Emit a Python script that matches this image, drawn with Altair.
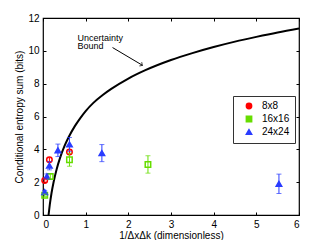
import altair as alt
import pandas as pd

# Uncertainty bound curve
curve_x = [0.13, 0.16, 0.2, 0.25, 0.32, 0.4, 0.5, 0.6, 0.75, 0.87, 1.0, 1.18, 1.4, 1.6, 2.0, 2.4, 3.0, 3.5, 4.0, 4.5, 5.0, 5.5, 6.0]
curve_y = [0.0, 0.64, 1.34, 2.03, 2.79, 3.48, 4.18, 4.74, 5.43, 5.89, 6.33, 6.83, 7.31, 7.68, 8.31, 8.82, 9.44, 9.86, 10.23, 10.56, 10.85, 11.12, 11.36]

# measured series
s8_x = [0.04, 0.15, 0.62]
s8_y = [2.1, 3.37, 3.84]
s8_e = [0.1, 0.12, 0.12]

s16_x = [0.04, 0.17, 0.62, 2.46]
s16_y = [1.2, 2.35, 3.37, 3.08]
s16_e = [0.08, 0.15, 0.4, 0.53]

s24_x = [0.04, 0.09, 0.15, 0.35, 0.62, 1.38, 5.53]
s24_y = [1.4, 2.35, 3.0, 3.94, 4.3, 3.77, 1.9]
s24_e = [0.1, 0.15, 0.25, 0.38, 0.42, 0.52, 0.59]

series_names = ["8x8", "16x16", "24x24"]
series_stroke = ["#ff0000", "#66dd00", "#2a3cff"]
series_fill = ["transparent", "transparent", "#2a3cff"]
series_shape = ["circle", "square", "triangle-up"]

# annotation
note_lines = ["Uncertainty", "Bound"]
note_x = [0.81, 0.81]
note_y = [10.81, 10.27]
arrow_x = [1.63, 2.33]
arrow_y = [10.2, 9.12]

curve = pd.DataFrame({"x": curve_x, "y": curve_y})
rows = []
for name, xs_, ys_, es_ in [("8x8", s8_x, s8_y, s8_e), ("16x16", s16_x, s16_y, s16_e), ("24x24", s24_x, s24_y, s24_e)]:
    for a, b, e in zip(xs_, ys_, es_):
        rows.append({"series": name, "x": a, "y": b, "lo": b - e, "hi": b + e})
pts = pd.DataFrame(rows)
notes = pd.DataFrame({"t": note_lines, "x": note_x, "y": note_y})
arrow = pd.DataFrame({"x": [arrow_x[0]], "y": [arrow_y[0]], "x2": [arrow_x[1]], "y2": [arrow_y[1]]})
head = pd.DataFrame({"x": [arrow_x[1]], "y": [arrow_y[1]]})

FONT = "Liberation Sans"
xs = alt.Scale(domain=[0, 6], nice=False, zero=False)
ys = alt.Scale(domain=[0, 12], nice=False, zero=False)

ax_b = alt.Axis(orient="bottom", values=[0, 1, 2, 3, 4, 5, 6], offset=-3, tickSize=3, domain=False,
                tickColor="black", labelPadding=4, labelFontSize=10, labelFont=FONT, labelColor="black",
                title="1/ΔxΔk (dimensionless)", titleFont=FONT, titleFontSize=10, titleFontWeight="normal",
                titleColor="black", titlePadding=1, grid=False)
ax_l = alt.Axis(orient="left", values=[0, 2, 4, 6, 8, 10, 12], offset=-3, tickSize=3, domain=False,
                tickColor="black", labelPadding=4, labelFontSize=10, labelFont=FONT, labelColor="black",
                title="Conditional entropy sum (bits)", titleFont=FONT, titleFontSize=10,
                titleFontWeight="normal", titleColor="black", titlePadding=3, grid=False)
ax_t = alt.Axis(orient="top", values=[0, 1, 2, 3, 4, 5, 6], offset=-3, tickSize=3, domain=False,
                tickColor="black", labels=False, title=None, grid=False)
ax_r = alt.Axis(orient="right", values=[0, 2, 4, 6, 8, 10, 12], offset=-3, tickSize=3, domain=False,
                tickColor="black", labels=False, title=None, grid=False)

line = alt.Chart(curve).mark_line(color="black", strokeWidth=2, clip=True, interpolate="monotone").encode(
    x=alt.X("x:Q", scale=xs, axis=ax_b),
    y=alt.Y("y:Q", scale=ys, axis=ax_l),
    order="x:Q",
)

arrow_layer = alt.Chart(arrow).mark_rule(color="black", strokeWidth=1).encode(
    x=alt.X("x:Q", scale=xs, axis=ax_t),
    y=alt.Y("y:Q", scale=ys, axis=ax_r),
    x2="x2:Q", y2="y2:Q",
)

head_layer = alt.Chart(head).mark_point(shape="M-1,-1L0,0L-1,1", size=20, filled=False, color="black",
                                        strokeWidth=1, angle=31).encode(
    x=alt.X("x:Q", scale=xs, axis=None),
    y=alt.Y("y:Q", scale=ys, axis=None),
)

text_layer = alt.Chart(notes).mark_text(align="left", baseline="middle", font=FONT, fontSize=9, color="black").encode(
    x=alt.X("x:Q", scale=xs, axis=None),
    y=alt.Y("y:Q", scale=ys, axis=None),
    text="t:N",
)

cscale = alt.Scale(domain=series_names, range=series_stroke)
leg = alt.Legend(title=None, orient="none", legendX=190, legendY=78, strokeColor="#333333", fillColor="white",
                 padding=5, labelFont=FONT, labelFontSize=10, labelColor="black", symbolSize=28,
                 symbolStrokeWidth=1.5, rowPadding=1, symbolOffset=6, labelOffset=8, cornerRadius=0)

points = alt.Chart(pts).mark_point(size=30, strokeWidth=1.5, opacity=1, filled=False).encode(
    x=alt.X("x:Q", scale=xs, axis=None),
    y=alt.Y("y:Q", scale=ys, axis=None),
    color=alt.Color("series:N", scale=cscale, legend=leg),
    fill=alt.Fill("series:N", scale=alt.Scale(domain=series_names, range=series_fill), legend=leg),
    shape=alt.Shape("series:N", scale=alt.Scale(domain=series_names, range=series_shape), legend=leg),
)

err = alt.Chart(pts).mark_errorbar(ticks=alt.MarkConfig(size=5), thickness=1).encode(
    x=alt.X("x:Q", scale=xs, axis=None),
    y=alt.Y("lo:Q", scale=ys, axis=None),
    y2="hi:Q",
    color=alt.Color("series:N", scale=cscale, legend=leg),
)

chart = alt.layer(line, arrow_layer, head_layer, text_layer, points, err).resolve_axis(
    x="independent", y="independent"
).properties(
    width=256, height=197,
    autosize=alt.AutoSizeParams(type="none"),
    padding={"left": 35, "top": 10, "right": 20, "bottom": 25},
).configure_view(stroke="black", strokeWidth=1.2)

chart.save("out.html", embed_options={"renderer": "svg", "actions": False})
